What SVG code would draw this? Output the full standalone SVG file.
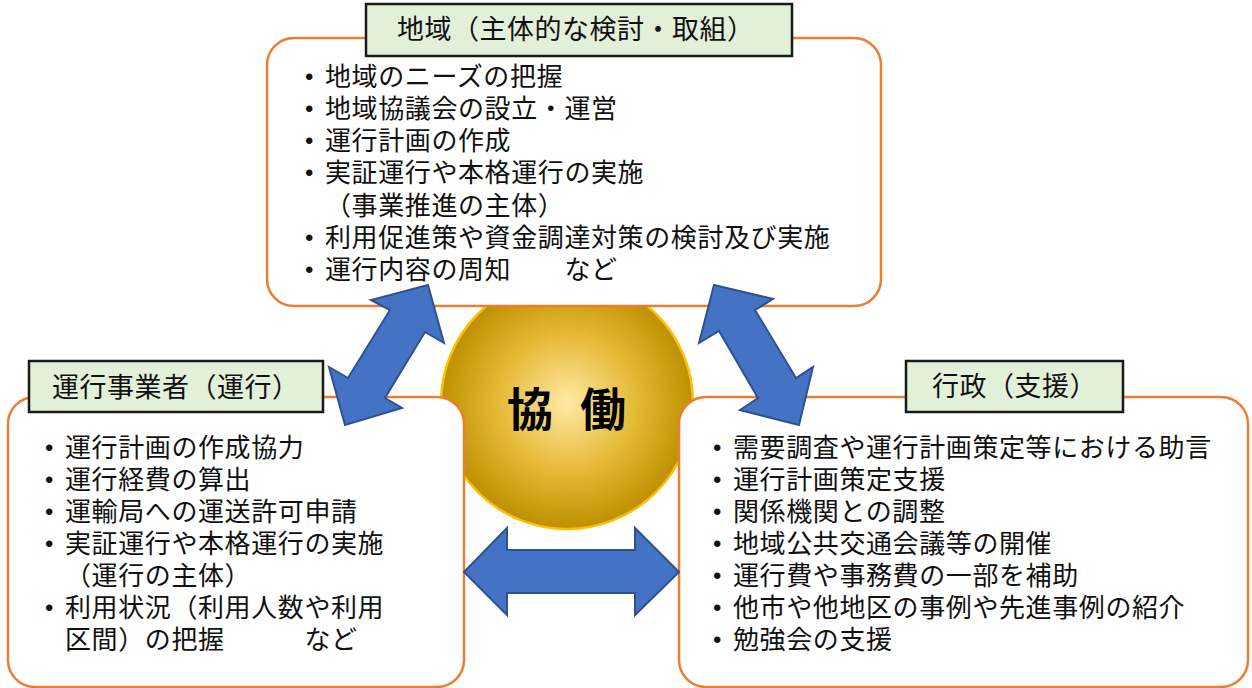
<svg xmlns="http://www.w3.org/2000/svg" width="1252" height="688" viewBox="0 0 1252 688">
<style>
.box{fill:#fff;stroke:#ED7D31;stroke-width:2.5}
.ttl{fill:#E2F0D9;stroke:#1a1a1a;stroke-width:2.5}
.t{font-family:"Noto Sans CJK JP","Noto Sans",sans-serif;font-size:26px;letter-spacing:0.6px;fill:#111}
.h{font-family:"Noto Sans CJK JP","Noto Sans",sans-serif;font-size:27px;letter-spacing:0.5px;fill:#111}
.b{font-family:"Liberation Sans",sans-serif;font-size:24px;fill:#111}
.arr{fill:#4472C4;stroke:#2F528F;stroke-width:2;stroke-linejoin:miter}
.core{font-family:"Noto Sans CJK JP",sans-serif;font-size:46px;font-weight:bold;fill:#000}
</style>
<defs>
<radialGradient id="gold" cx="0.5" cy="0.5" r="0.5">
<stop offset="0" stop-color="#FFE9A6"/>
<stop offset="0.55" stop-color="#E4B934"/>
<stop offset="1" stop-color="#BE8F00"/>
</radialGradient>
</defs>
<g id="center">
<circle cx="567" cy="403" r="126" fill="url(#gold)" stroke="#FFC000" stroke-width="2.5"/>
</g>
<g id="top">
<rect class="box" x="267" y="38" width="614" height="268" rx="27"/>
<rect class="ttl" x="366" y="4" width="426" height="52"/>
<text class="h" x="397" y="39">地域（主体的な検討・取組）</text>
<text class="b" x="305" y="85">•</text><text class="t" x="325" y="86">地域のニーズの把握</text>
<text class="b" x="305" y="117">•</text><text class="t" x="325" y="118">地域協議会の設立・運営</text>
<text class="b" x="305" y="149">•</text><text class="t" x="325" y="150">運行計画の作成</text>
<text class="b" x="305" y="181">•</text><text class="t" x="325" y="182">実証運行や本格運行の実施</text>
<text class="t" x="325" y="215">（事業推進の主体）</text>
<text class="b" x="305" y="246">•</text><text class="t" x="325" y="247">利用促進策や資金調達対策の検討及び実施</text>
<text class="b" x="305" y="278">•</text><text class="t" x="325" y="279">運行内容の周知　　など</text>
</g>
<g id="left">
<rect class="box" x="8" y="397" width="456" height="290" rx="27"/>
<rect class="ttl" x="29" y="361" width="294" height="51"/>
<text class="h" x="52" y="397">運行事業者（運行）</text>
<text class="b" x="45" y="456">•</text><text class="t" x="65" y="457">運行計画の作成協力</text>
<text class="b" x="45" y="488">•</text><text class="t" x="65" y="489">運行経費の算出</text>
<text class="b" x="45" y="520">•</text><text class="t" x="65" y="521">運輸局への運送許可申請</text>
<text class="b" x="45" y="552">•</text><text class="t" x="65" y="553">実証運行や本格運行の実施</text>
<text class="t" x="65" y="585">（運行の主体）</text>
<text class="b" x="45" y="616">•</text><text class="t" x="65" y="617">利用状況（利用人数や利用</text>
<text class="t" x="65" y="649">区間）の把握　　　など</text>
</g>
<g id="right">
<rect class="box" x="679" y="397" width="569" height="290" rx="27"/>
<rect class="ttl" x="906" y="361" width="217" height="51"/>
<text class="h" x="932" y="396">行政（支援）</text>
<text class="b" x="713" y="456">•</text><text class="t" x="733" y="457">需要調査や運行計画策定等における助言</text>
<text class="b" x="713" y="488">•</text><text class="t" x="733" y="489">運行計画策定支援</text>
<text class="b" x="713" y="520">•</text><text class="t" x="733" y="521">関係機関との調整</text>
<text class="b" x="713" y="552">•</text><text class="t" x="733" y="553">地域公共交通会議等の開催</text>
<text class="b" x="713" y="584">•</text><text class="t" x="733" y="585">運行費や事務費の一部を補助</text>
<text class="b" x="713" y="616">•</text><text class="t" x="733" y="617">他市や他地区の事例や先進事例の紹介</text>
<text class="b" x="713" y="648">•</text><text class="t" x="733" y="649">勉強会の支援</text>
</g>
<g id="core-label">
<text class="core" x="507" y="426">協<tspan x="580">働</tspan></text>
</g>
<g id="connectors">
<polygon class="arr" points="428,285 444,343 425,332 385,398 402,408 345,425 329,367 348,378 390,310 371,300"/>
<polygon class="arr" points="714,285 773,299 755,310 796,378 813,367 799,425 740,410 758,398 719,331 699,343"/>
<polygon class="arr" points="464,572 507,528 507,550 635,550 635,528 679,572 635,615 635,593 507,593 507,615"/>
</g>
</svg>
